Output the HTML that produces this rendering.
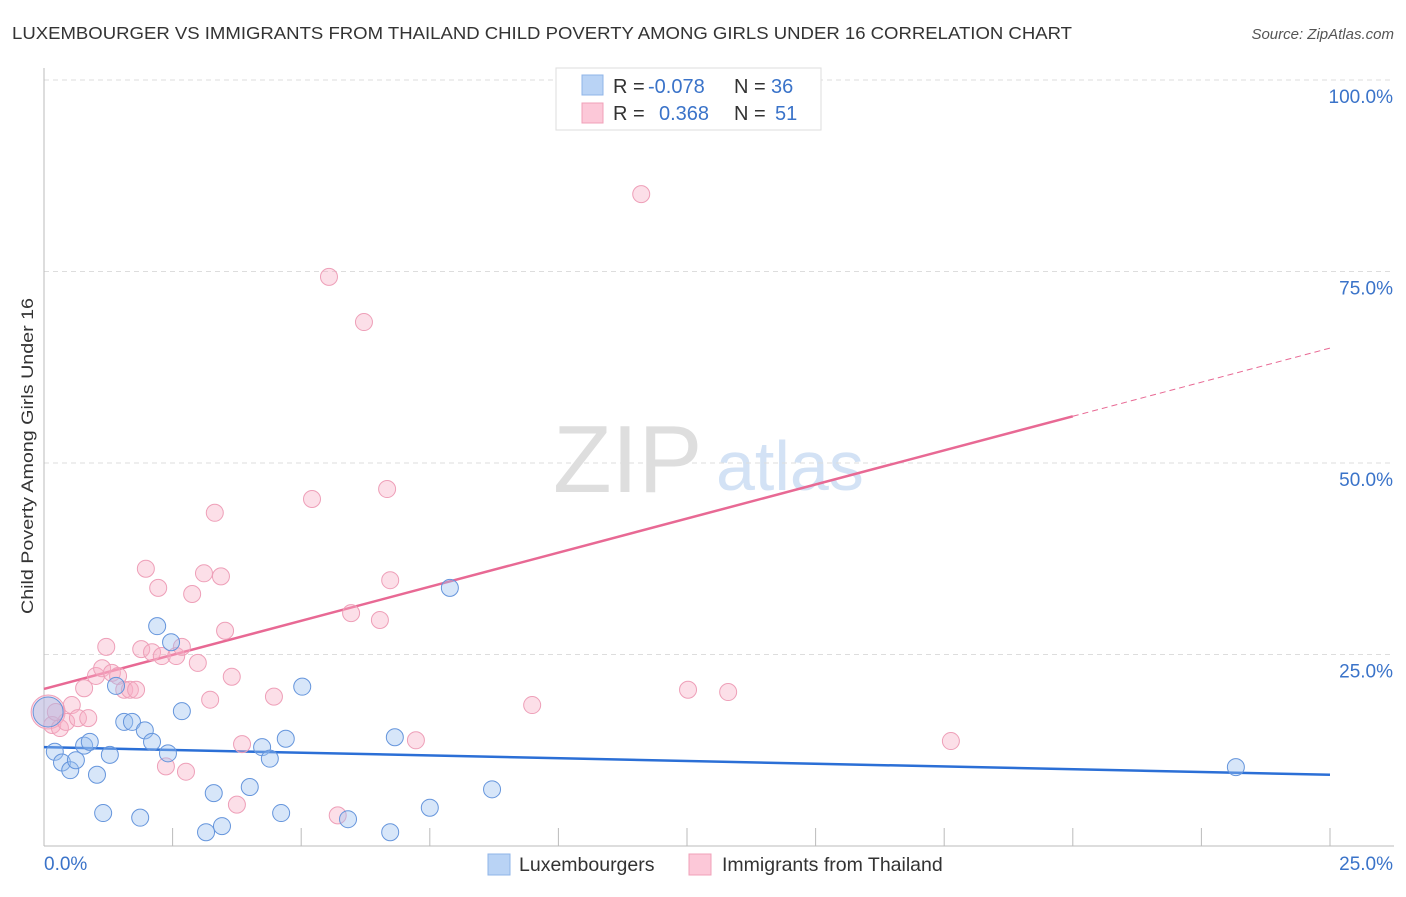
<!DOCTYPE html>
<html><head><meta charset="utf-8"><style>
body{margin:0;background:#fff;font-family:"Liberation Sans",sans-serif;}
svg text{font-family:"Liberation Sans",sans-serif;}
</style></head><body>
<svg id="chart" width="1406" height="892" viewBox="0 0 1406 892" xmlns="http://www.w3.org/2000/svg">
<text x="12" y="39" font-size="17.5" fill="#333" textLength="1060" lengthAdjust="spacingAndGlyphs">LUXEMBOURGER VS IMMIGRANTS FROM THAILAND CHILD POVERTY AMONG GIRLS UNDER 16 CORRELATION CHART</text>
<text x="1394" y="39" font-size="15" fill="#555" text-anchor="end" font-style="italic">Source: ZipAtlas.com</text>
<g>
<text x="553" y="492" font-size="96" fill="#dedede" font-family="Liberation Serif,serif">ZIP</text>
<text x="716" y="490" font-size="70" fill="#d3e2f5">atlas</text>
</g>
<g id="grid"></g>
<g id="axes"></g>
<g id="trend"></g>
<g id="pts"></g>
<text transform="translate(33,456) rotate(-90)" font-size="17" fill="#333" text-anchor="middle" textLength="316" lengthAdjust="spacingAndGlyphs">Child Poverty Among Girls Under 16</text>
<g>
<rect x="556" y="68" width="265" height="62" fill="#fff" stroke="#ddd"/>
<rect x="582" y="75" width="21" height="20" fill="#b9d3f5" stroke="#8fb5e8"/>
<rect x="582" y="103" width="21" height="20" fill="#fcc8d8" stroke="#f0a0b8"/>
<text x="613" y="93" font-size="20" fill="#333">R = <tspan fill="#3a73c9" x="648">-0.078</tspan></text>
<text x="734" y="93" font-size="20" fill="#333">N = <tspan fill="#3a73c9" x="771">36</tspan></text>
<text x="613" y="120" font-size="20" fill="#333">R = <tspan fill="#3a73c9" x="659">0.368</tspan></text>
<text x="734" y="120" font-size="20" fill="#333">N = <tspan fill="#3a73c9" x="775">51</tspan></text>
</g>
<g>
<rect x="488" y="854" width="22" height="21" fill="#b9d3f5" stroke="#8fb5e8"/>
<text x="519" y="871" font-size="19.5" fill="#333">Luxembourgers</text>
<rect x="689" y="854" width="22" height="21" fill="#fcc8d8" stroke="#f0a0b8"/>
<text x="722" y="871" font-size="19.5" fill="#333">Immigrants from Thailand</text>
</g>
</svg>
<script>
const blueX=[0.21,0.35,0.51,0.62,0.78,0.89,1.03,1.15,1.28,1.40,1.56,1.71,1.87,1.96,2.10,2.20,2.41,2.47,2.68,3.15,3.30,3.46,4.00,4.24,4.39,4.61,4.70,5.02,5.91,6.73,6.82,7.50,7.89,8.71,23.17,0.08];
const blueY=[12.3,10.9,9.9,11.2,13.1,13.6,9.3,4.3,11.9,20.9,16.2,16.2,3.7,15.1,13.6,28.7,12.1,26.6,17.6,1.8,6.9,2.6,7.7,12.9,11.4,4.3,14.0,20.8,3.5,1.8,14.2,5.0,33.7,7.4,10.3,17.5];
const pinkX=[0.08,0.16,0.31,0.43,0.54,0.66,0.86,0.78,1.01,1.13,1.21,1.32,1.44,1.56,1.67,1.79,1.89,1.98,2.10,2.22,2.29,2.37,2.57,2.68,2.76,2.88,2.99,3.11,3.23,3.32,3.44,3.52,3.65,3.75,3.85,4.47,5.21,5.54,5.71,5.97,6.22,6.53,6.67,6.73,7.23,9.49,11.61,12.52,13.30,17.63,0.23];
const pinkY=[17.5,15.8,15.4,16.2,18.4,16.7,16.7,20.6,22.2,23.2,26.0,22.6,22.2,20.4,20.4,20.4,25.7,36.2,25.3,33.7,24.8,10.4,24.8,26.0,9.7,32.9,23.9,35.6,19.1,43.5,35.2,28.1,22.1,5.4,13.3,19.5,45.3,74.3,4.0,30.4,68.4,29.5,46.6,34.7,13.8,18.4,85.1,20.4,20.1,13.7,17.5];
const yTicks=[25,50,75,100];
const yTickLabels=["25.0%","50.0%","75.0%","100.0%"];
const xTickLabels=["0.0%","25.0%"];
const blueTrend=[12.9,9.3];
const pinkTrend=[20.5,56.1,65.0];
const pinkTrendX=[0,20,25];

const NS="http://www.w3.org/2000/svg";
const sx=v=>44+v/25*1286;
const sy=v=>846-v/100*766;
function mk(tag,attrs,parent){const e=document.createElementNS(NS,tag);for(const k in attrs)e.setAttribute(k,attrs[k]);document.getElementById(parent).appendChild(e);return e;}

yTicks.forEach((t,i)=>{
  const l=mk('line',{x1:44,x2:1394,y1:sy(t),y2:sy(t),stroke:'#ddd','stroke-dasharray':'5,4'},'grid');
  
  
  const tx=mk('text',{x:1393,y:sy(t)+23,'font-size':19,fill:'#3a73c9','text-anchor':'end'},'grid');
  tx.textContent=yTickLabels[i];
  
  
});
let ax=mk('line',{x1:44,x2:44,y1:68,y2:846,stroke:'#bbb'},'axes');


ax=mk('line',{x1:44,x2:1394,y1:846,y2:846,stroke:'#bbb'},'axes');


for(let i=1;i<=10;i++){
  const x=sx(i*2.5);
  const t=mk('line',{x1:x,x2:x,y1:828,y2:846,stroke:'#bbb'},'axes');
  
  
}
let xl=mk('text',{x:44,y:870,'font-size':19,fill:'#3a73c9'},'axes');
xl.textContent=xTickLabels[0];


xl=mk('text',{x:1393,y:870,'font-size':19,fill:'#3a73c9','text-anchor':'end'},'axes');
xl.textContent=xTickLabels[1];



function dot(x,y,r,fill,stroke,name){
  const c=mk('circle',{cx:sx(x),cy:sy(y),r:r,fill:fill,stroke:stroke,'stroke-width':1},'pts');
  
  
}
pinkX.forEach((x,i)=>dot(x,pinkY[i],i===0?17:8.5,'rgba(248,175,198,0.4)','#ee9fb8','thailand-point'));
blueX.forEach((x,i)=>dot(x,blueY[i],i===blueX.length-1?15:8.5,'rgba(155,192,240,0.4)','#6595dc','luxembourg-point'));

let tl=mk('line',{x1:sx(0),y1:sy(blueTrend[0]),x2:sx(25),y2:sy(blueTrend[1]),stroke:'#2b6fd6','stroke-width':2.5},'trend');


tl=mk('line',{x1:sx(pinkTrendX[0]),y1:sy(pinkTrend[0]),x2:sx(pinkTrendX[1]),y2:sy(pinkTrend[1]),stroke:'#e86994','stroke-width':2.5},'trend');


tl=mk('line',{x1:sx(pinkTrendX[1]),y1:sy(pinkTrend[1]),x2:sx(pinkTrendX[2]),y2:sy(pinkTrend[2]),stroke:'#e86994','stroke-width':1,'stroke-dasharray':'6,4'},'trend');


</script>
</body></html>
